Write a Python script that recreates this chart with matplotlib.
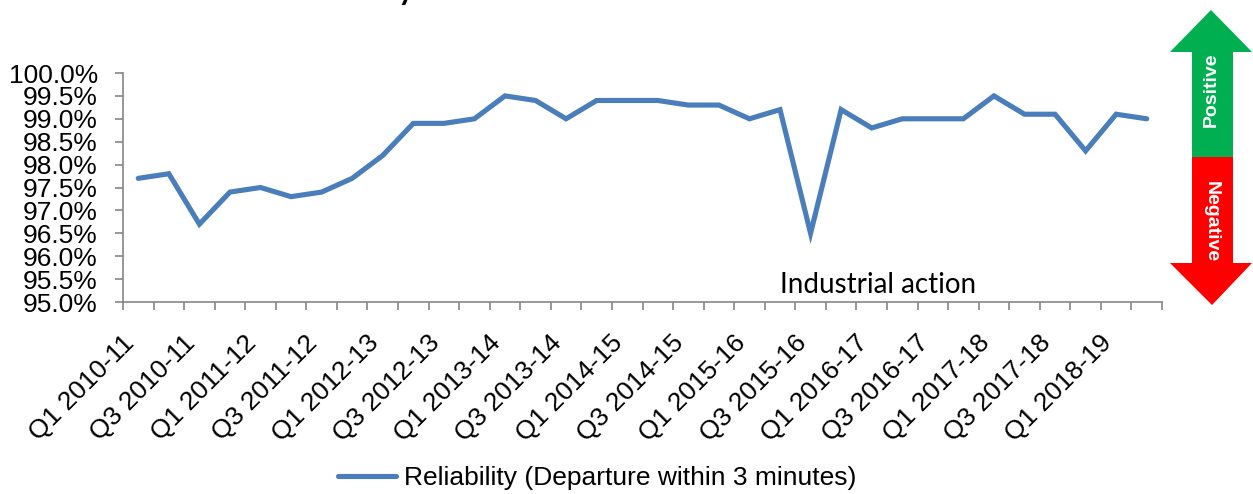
import matplotlib
matplotlib.use("Agg")
import matplotlib.pyplot as plt
from matplotlib.patches import Polygon
from matplotlib.ticker import FuncFormatter
from matplotlib.transforms import ScaledTranslation
import numpy as np

plt.rcParams['font.family'] = ['Liberation Sans', 'DejaVu Sans']

# Quarterly reliability, Q1 2010-11 .. Q2 2018-19
years = ['2010-11', '2011-12', '2012-13', '2013-14', '2014-15',
         '2015-16', '2016-17', '2017-18', '2018-19']
quarters = [f'Q{q} {y}' for y in years for q in range(1, 5)][:34]
reliability = [97.7, 97.8, 96.7, 97.4, 97.5, 97.3, 97.4, 97.7,
               98.2, 98.9, 98.9, 99.0, 99.5, 99.4, 99.0, 99.4,
               99.4, 99.4, 99.3, 99.3, 99.0, 99.2, 96.5, 99.2,
               98.8, 99.0, 99.0, 99.0, 99.5, 99.1, 99.1, 98.3,
               99.1, 99.0]
series_name = 'Reliability (Departure within 3 minutes)'
note_text = 'Industrial action'

W, H = 1253, 494
fig = plt.figure(figsize=(W / 100, H / 100), dpi=100)
ax = fig.add_axes([123 / W, 1 - 302 / H, (1162 - 123) / W, (302 - 73) / H])

x = np.arange(len(reliability))
line, = ax.plot(x, reliability, color='#4A7EBB', lw=3.7,
                solid_joinstyle='miter', solid_capstyle='round',
                label=series_name)

ax.set_xlim(-0.5, len(reliability) - 0.5)
ax.set_ylim(95, 100)
ax.set_yticks(np.arange(95, 100.01, 0.5))
ax.yaxis.set_major_formatter(FuncFormatter(lambda v, p: f'{v:.1f}%'))

# tick marks on category boundaries, labels on every second quarter
ax.set_xticks(np.arange(-0.5, len(reliability), 1))
ax.set_xticklabels([])
ax.set_xticks(x[::2], minor=True)
ax.set_xticklabels(quarters[::2], minor=True, rotation=45, ha='right',
                   va='center', rotation_mode='anchor')
ax.tick_params(axis='x', which='minor', length=0, pad=27, labelsize=19)
ax.tick_params(axis='x', which='major', length=6, width=1.2, color='#868686')
ax.tick_params(axis='y', length=6, width=1.2, color='#868686', labelsize=19, pad=12)

shift = ScaledTranslation(-0.08, 0, fig.dpi_scale_trans)
for lbl in ax.get_xticklabels(minor=True):
    lbl.set_transform(lbl.get_transform() + shift)

for s in ['top', 'right']:
    ax.spines[s].set_visible(False)
for s in ['left', 'bottom']:
    ax.spines[s].set_color('#868686')
    ax.spines[s].set_linewidth(1.2)

ax.text(24.2, 95.37, note_text, fontsize=20, family=['Lato', 'DejaVu Sans'],
        ha='center', va='center')

fig.legend(handles=[line], loc='center', bbox_to_anchor=(597 / W, 1 - 478 / H),
           frameon=False, fontsize=19, handlelength=2.2, handletextpad=0.3)

# chart heading sits above the top edge
fig.text(418 / W, 1 + 2 / H, 'Reliability', fontsize=30, ha='right',
         va='baseline', family=['Lato', 'DejaVu Sans'])

# positive / negative direction arrow
ov = fig.add_axes([0, 0, 1, 1])
ov.set_xlim(0, W)
ov.set_ylim(H, 0)
ov.axis('off')
ov.add_patch(Polygon([(1211, 10), (1252, 52), (1233, 52), (1233, 157),
                      (1192, 157), (1192, 52), (1170, 52)],
                     closed=True, color='#00B050', lw=0))
ov.add_patch(Polygon([(1192, 157), (1233, 157), (1233, 263), (1252, 263),
                      (1212, 305), (1170, 263), (1192, 263)],
                     closed=True, color='#FF0000', lw=0))
ov.text(1211, 90, 'Positive', rotation=90, color='white', fontsize=14,
        fontweight='bold', ha='center', va='center')
ov.text(1211, 222, 'Negative', rotation=270, color='white', fontsize=14,
        fontweight='bold', ha='center', va='center')

fig.savefig('out.png', dpi=100)
